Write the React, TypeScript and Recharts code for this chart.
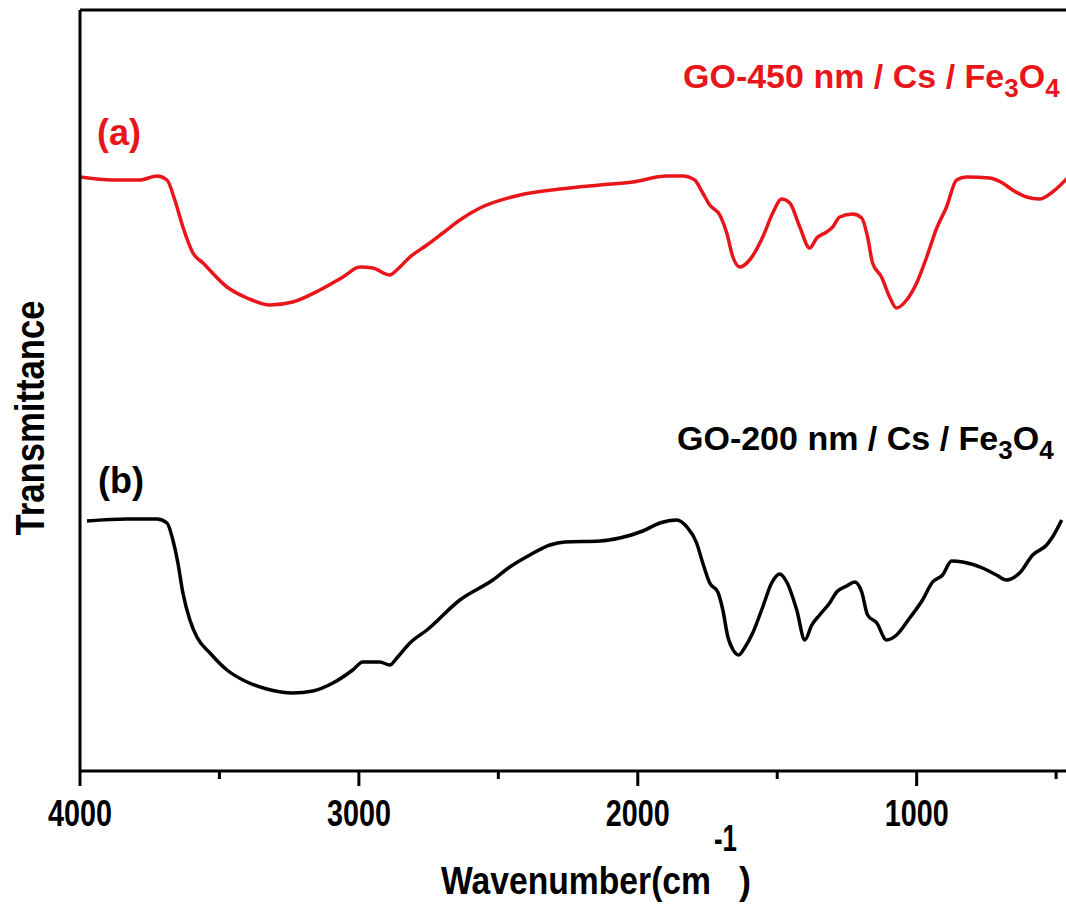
import { LineChart, Line, XAxis, YAxis, ReferenceLine, Customized } from "recharts"

// FTIR spectra, wavenumber (cm-1) vs transmittance (a.u., offset for stacking)
const wavenumbersA = [
  4000, 3882, 3785, 3724, 3688, 3660, 3631, 3595, 3559, 3473, 3401, 3319, 3237, 3140, 3057, 2996,
  2950, 2889, 2864, 2817, 2756, 2699, 2638, 2566, 2423, 2280, 2136, 2018, 1896, 1839, 1796, 1767,
  1742, 1706, 1681, 1659, 1634, 1599, 1552, 1516, 1484, 1455, 1419, 1384, 1358, 1323, 1301, 1276,
  1229, 1197, 1176, 1158, 1126, 1097, 1072, 1036, 1000, 964, 928, 893, 857, 821, 738, 692, 656,
  606, 559, 513, 466, 440,
]
const transmittanceA = [
  594, 591, 591, 595, 591, 571, 544, 518, 508, 484, 473, 466, 469, 481, 494, 504,
  503, 496, 501, 514, 526, 538, 551, 563, 576, 582, 586, 589, 595, 595, 591, 578,
  566, 556, 538, 514, 504, 511, 534, 558, 572, 568, 544, 523, 533, 539, 544, 554,
  557, 553, 534, 508, 494, 474, 463, 471, 488, 514, 543, 564, 591, 594, 593, 588, 581,
  574, 572, 579, 591, 599,
]

const wavenumbersB = [
  3975, 3832, 3724, 3688, 3667, 3649, 3631, 3606, 3581, 3534, 3473, 3401, 3330, 3237, 3165, 3093,
  3022, 2986, 2925, 2889, 2864, 2817, 2756, 2638, 2520, 2459, 2387, 2315, 2262, 2136, 2065, 1982,
  1921, 1860, 1824, 1789, 1767, 1742, 1713, 1695, 1677, 1660, 1638, 1615, 1588, 1552, 1520, 1491,
  1466, 1430, 1401, 1376, 1348, 1312, 1287, 1251, 1222, 1197, 1176, 1143, 1108, 1072, 1025, 979,
  943, 907, 875, 835, 764, 714, 678, 631, 584, 534, 513, 480,
]
const transmittanceB = [
  250, 252, 252, 248, 231, 208, 178, 151, 134, 118, 101, 89, 82, 78, 80, 88,
  101, 109, 109, 106, 113, 128, 141, 171, 191, 204, 216, 226, 229, 230, 233, 240,
  248, 251, 244, 228, 208, 188, 179, 161, 134, 122, 116, 124, 138, 164, 188, 197,
  189, 161, 131, 146, 156, 168, 179, 185, 189, 179, 156, 148, 131, 136, 153, 171,
  189, 196, 210, 209, 203, 196, 191, 198, 216, 226, 234, 251,
]

const xTicks = [4000, 3500, 3000, 2500, 2000, 1500, 1000, 500]

const RED = "#e8161b"
const FONT = "Arial, 'Liberation Sans', Helvetica, sans-serif"

const dataA = wavenumbersA.map((wn, i) => ({ wn, t: transmittanceA[i] }))
const dataB = wavenumbersB.map((wn, i) => ({ wn, t: transmittanceB[i] }))

function XTick(props: any) {
  const { x, y, payload } = props
  const major = payload.value % 1000 === 0
  return (
    <g>
      <line x1={x} x2={x} y1={y} y2={y + (major ? 15 : 8)} stroke="#000" strokeWidth={3} />
      {major && (
        <text
          x={x}
          y={y + 55}
          textAnchor="middle"
          fontFamily={FONT}
          fontWeight="bold"
          fontSize={37}
          textLength={64}
          lengthAdjust="spacingAndGlyphs"
          fill="#000"
        >
          {payload.value}
        </text>
      )}
    </g>
  )
}

function Labels() {
  return (
    <g fontFamily={FONT} fontWeight="bold">
      <text x={97} y={145} fontSize={36} fill={RED}>(a)</text>
      <text x={98} y={493} fontSize={36} fill="#000">(b)</text>
      <text x={683} y={88} fontSize={34} fill={RED}>
        GO-450 nm / Cs / Fe<tspan fontSize={26} dy={9}>3</tspan>
        <tspan fontSize={34} dy={-9}>O</tspan>
        <tspan fontSize={26} dy={9}>4</tspan>
      </text>
      <text x={677} y={450} fontSize={34} fill="#000">
        GO-200 nm / Cs / Fe<tspan fontSize={26} dy={9}>3</tspan>
        <tspan fontSize={34} dy={-9}>O</tspan>
        <tspan fontSize={26} dy={9}>4</tspan>
      </text>
      <text x={441} y={894} fontSize={39} textLength={270} lengthAdjust="spacingAndGlyphs" fill="#000">
        Wavenumber(cm
      </text>
      <text x={714} y={851} fontSize={36} textLength={23} lengthAdjust="spacingAndGlyphs" fill="#000">
        -1
      </text>
      <text x={739} y={894} fontSize={39} textLength={12} lengthAdjust="spacingAndGlyphs" fill="#000">
        )
      </text>
      <text
        x={44}
        y={418}
        fontSize={40}
        textAnchor="middle"
        textLength={235}
        lengthAdjust="spacingAndGlyphs"
        fill="#000"
        transform="rotate(-90 44 418)"
      >
        Transmittance
      </text>
    </g>
  )
}

export default function App() {
  return (
    <div style={{ position: "absolute", left: 0, top: 0, width: 1066, height: 905, overflow: "hidden", background: "#fff" }}>
      <LineChart width={1092} height={905} margin={{ top: 10, right: 8, left: 70, bottom: 74 }}>
        <XAxis
          type="number"
          dataKey="wn"
          domain={[400, 4000]}
          reversed
          ticks={xTicks}
          interval={0}
          height={60}
          tickSize={0}
          tickMargin={0}
          tickLine={false}
          axisLine={{ stroke: "#000", strokeWidth: 3 }}
          tick={<XTick />}
          allowDataOverflow
        />
        <YAxis
          type="number"
          domain={[0, 761]}
          width={10}
          tick={false}
          tickLine={false}
          axisLine={{ stroke: "#000", strokeWidth: 3 }}
          allowDataOverflow
        />
        <ReferenceLine y={761} stroke="#000" strokeWidth={3} />
        <Line data={dataA} dataKey="t" type="monotone" stroke={RED} strokeWidth={3.5} dot={false} isAnimationActive={false} />
        <Line data={dataB} dataKey="t" type="monotone" stroke="#000" strokeWidth={3.5} dot={false} isAnimationActive={false} />
        <Customized component={Labels} />
      </LineChart>
    </div>
  )
}
